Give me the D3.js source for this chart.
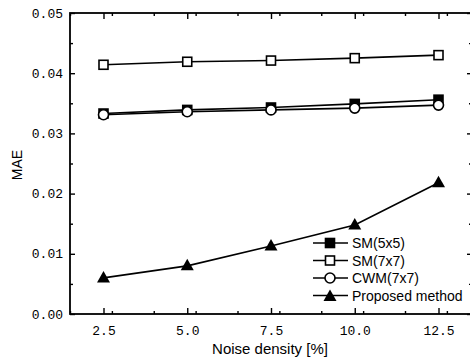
<!DOCTYPE html>
<html>
<head>
<meta charset="utf-8">
<script src="https://cdn.jsdelivr.net/npm/d3@7"></script>
<style>
  body { margin: 0; background: #fff; }
  svg { display: block; }
</style>
</head>
<body>
<script>
(function () {
    "use strict";

    // chart values
    var noise = [2.5, 5.0, 7.5, 10.0, 12.5];
    var sm5 = [0.0333, 0.0339, 0.0343, 0.0349, 0.0356];
    var sm7 = [0.0414, 0.0419, 0.0421, 0.0425, 0.0430];
    var cwm7 = [0.0331, 0.0336, 0.0339, 0.0342, 0.0347];
    var proposed = [0.0060, 0.0080, 0.0113, 0.0148, 0.0218];
    var seriesNames = ["SM(5x5)", "SM(7x7)", "CWM(7x7)", "Proposed method"];
    var seriesMarks = ["fsquare", "square", "circle", "triangle"];
    var xTicks = [2.5, 5.0, 7.5, 10.0, 12.5];
    var yTicks = [0.00, 0.01, 0.02, 0.03, 0.04, 0.05];

    var width = 470, height = 359;
    var margin = {top: 13, left: 70};
    var innerW = 402, innerH = 301;

    var svg = d3.select("body").append("svg")
        .attr("width", width)
        .attr("height", height);

    var x = d3.scaleLinear().domain([1.5, 13.5]).range([margin.left, margin.left + innerW]);
    var y = d3.scaleLinear().domain([0, 0.05]).range([margin.top + innerH, margin.top]);

    var monoFont = "'Liberation Mono', 'DejaVu Sans Mono', monospace";
    var sansFont = "'Liberation Sans', Arial, sans-serif";

    // minor ticks halfway between the major ones
    var xMinor = d3.range(1.5, 13.6, 1.25).filter(function (v) { return xTicks.indexOf(v) < 0; });
    var yMinor = d3.range(0.005, 0.05, 0.01);

    function styleAxis(g) {
        g.select(".domain").remove();
        g.selectAll("line").attr("stroke", "#000").attr("stroke-width", 1.4);
        g.selectAll("text").attr("fill", "#000")
            .style("font-family", monoFont).style("font-size", "13px");
    }

    // bottom axis, ticks point inward
    svg.append("g")
        .attr("transform", "translate(0," + y(0) + ")")
        .call(d3.axisBottom(x).tickValues(xTicks).tickSizeInner(-6).tickSizeOuter(0)
            .tickPadding(12).tickFormat(d3.format(".1f")))
        .call(styleAxis);
    svg.append("g")
        .attr("transform", "translate(0," + y(0) + ")")
        .call(d3.axisBottom(x).tickValues(xMinor).tickSizeInner(-3).tickSizeOuter(0).tickFormat(""))
        .call(styleAxis);

    // top axis ticks
    svg.append("g")
        .attr("transform", "translate(0," + y(0.05) + ")")
        .call(d3.axisTop(x).tickValues(xTicks).tickSizeInner(-6).tickSizeOuter(0).tickFormat(""))
        .call(styleAxis);
    svg.append("g")
        .attr("transform", "translate(0," + y(0.05) + ")")
        .call(d3.axisTop(x).tickValues(xMinor).tickSizeInner(-3).tickSizeOuter(0).tickFormat(""))
        .call(styleAxis);

    // left axis
    svg.append("g")
        .attr("transform", "translate(" + x(1.5) + ",0)")
        .call(d3.axisLeft(y).tickValues(yTicks).tickSizeInner(-5).tickSizeOuter(0)
            .tickPadding(7).tickFormat(d3.format(".2f")))
        .call(styleAxis);
    svg.append("g")
        .attr("transform", "translate(" + x(1.5) + ",0)")
        .call(d3.axisLeft(y).tickValues(yMinor).tickSizeInner(-3).tickSizeOuter(0).tickFormat(""))
        .call(styleAxis);

    // right axis ticks
    svg.append("g")
        .attr("transform", "translate(" + x(13.5) + ",0)")
        .call(d3.axisRight(y).tickValues(yTicks).tickSizeInner(-5).tickSizeOuter(0).tickFormat(""))
        .call(styleAxis);
    svg.append("g")
        .attr("transform", "translate(" + x(13.5) + ",0)")
        .call(d3.axisRight(y).tickValues(yMinor).tickSizeInner(-3).tickSizeOuter(0).tickFormat(""))
        .call(styleAxis);

    // frame
    svg.append("rect")
        .attr("x", x(1.5))
        .attr("y", y(0.05))
        .attr("width", x(13.5) - x(1.5))
        .attr("height", y(0) - y(0.05))
        .attr("fill", "none")
        .attr("stroke", "#000")
        .attr("stroke-width", 1.8);

    // axis titles
    svg.append("text")
        .attr("x", 270)
        .attr("y", 354)
        .attr("text-anchor", "middle")
        .style("font-family", sansFont)
        .style("font-size", "15px")
        .text("Noise density [%]");

    svg.append("text")
        .attr("transform", "translate(22," + 165 + ") rotate(-90)")
        .attr("text-anchor", "middle")
        .style("font-family", sansFont)
        .style("font-size", "14px")
        .text("MAE");

    function drawMarker(g, kind, cx, cy) {
        if (kind === "square" || kind === "fsquare") {
            g.append("rect")
                .attr("x", cx - 4.5).attr("y", cy - 4.5)
                .attr("width", 9).attr("height", 9)
                .attr("fill", kind === "fsquare" ? "#000" : "#fff")
                .attr("stroke", "#000").attr("stroke-width", 1.6);
        } else if (kind === "circle") {
            g.append("circle")
                .attr("cx", cx).attr("cy", cy).attr("r", 5)
                .attr("fill", "#fff")
                .attr("stroke", "#000").attr("stroke-width", 1.6);
        } else {
            g.append("path")
                .attr("d", "M" + cx + "," + (cy - 7) + "L" + (cx + 6.5) + "," + (cy + 4.5) +
                    "L" + (cx - 6.5) + "," + (cy + 4.5) + "Z")
                .attr("fill", "#000");
        }
    }

    var line = d3.line()
        .x(function (d) { return x(d[0]); })
        .y(function (d) { return y(d[1]); });

    var allSeries = [sm5, sm7, cwm7, proposed];
    allSeries.forEach(function (vals, i) {
        var pts = noise.map(function (n, j) { return [n, vals[j]]; });
        var g = svg.append("g");
        g.append("path")
            .attr("d", line(pts))
            .attr("fill", "none")
            .attr("stroke", "#000")
            .attr("stroke-width", 1.6);
        pts.forEach(function (p) {
            drawMarker(g, seriesMarks[i], x(p[0]), y(p[1]));
        });
    });

    // legend, no box
    var legend = svg.append("g");
    seriesNames.forEach(function (name, i) {
        var ly = 243 + i * 17.5;
        legend.append("line")
            .attr("x1", 313).attr("x2", 348)
            .attr("y1", ly).attr("y2", ly)
            .attr("stroke", "#000").attr("stroke-width", 1.6);
        drawMarker(legend, seriesMarks[i], 330, ly + (seriesMarks[i] === "triangle" ? 1 : 0));
        legend.append("text")
            .attr("x", 352)
            .attr("y", ly + 5)
            .style("font-family", sansFont)
            .style("font-size", "14px")
            .text(name);
    });
})();
</script>
</body>
</html>
